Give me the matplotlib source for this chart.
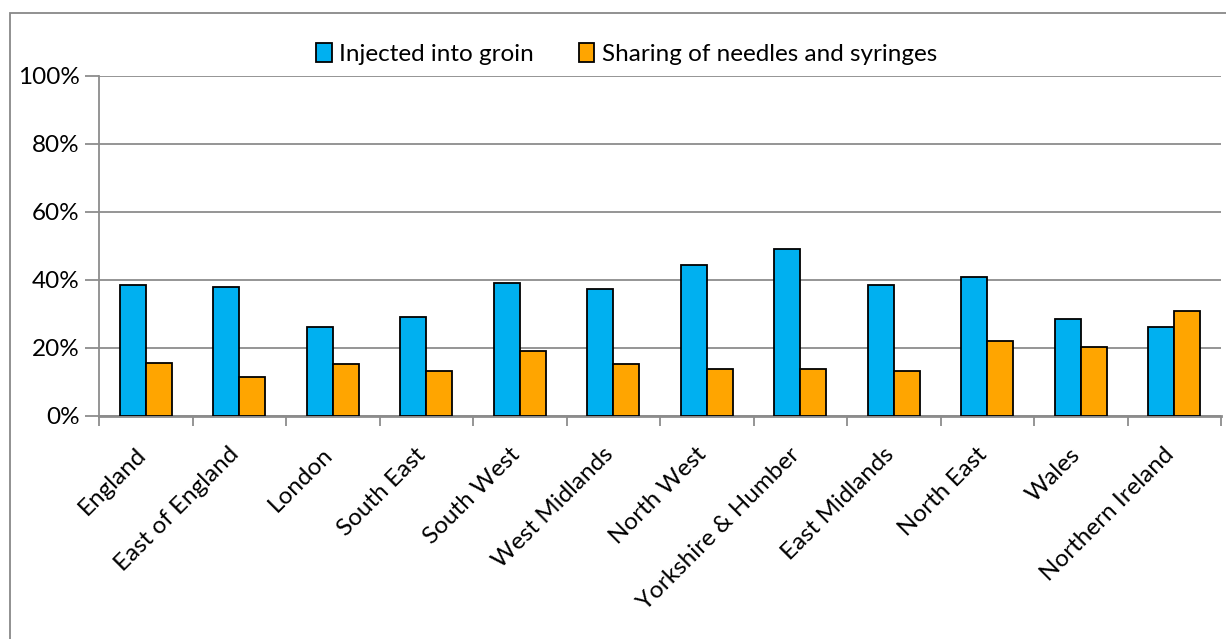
import matplotlib
matplotlib.use("Agg")
import matplotlib.pyplot as plt
import matplotlib.transforms as mtransforms
import numpy as np
from matplotlib.patches import Rectangle
from matplotlib.ticker import FixedLocator, PercentFormatter

plt.rcParams['font.family'] = ['Lato', 'DejaVu Sans']

regions = ["England", "East of England", "London", "South East", "South West",
           "West Midlands", "North West", "Yorkshire & Humber", "East Midlands",
           "North East", "Wales", "Northern Ireland"]
groin = [38.6, 38.0, 26.3, 29.2, 39.2, 37.5, 44.5, 49.2, 38.6, 41.0, 28.6, 26.3]
sharing = [15.7, 11.6, 15.2, 13.3, 19.2, 15.2, 13.9, 13.9, 13.3, 22.2, 20.4, 31.0]
series_names = ["Injected into groin", "Sharing of needles and syringes"]

blue = "#00B0F0"
orange = "#FFA500"
grey = "#8C8C8C"
fs = 17.5

fig = plt.figure(figsize=(12.26, 6.39), dpi=100)
ax = fig.add_axes([99 / 1226, 1 - 416 / 639, 1122 / 1226, 340 / 639])

# chart frame round the whole area
fig.patches.append(Rectangle((10 / 1226, -0.05), 1.1, 1 - 12.5 / 639 + 0.05,
                             transform=fig.transFigure, fill=False,
                             edgecolor="#888888", linewidth=1.3))

x = np.arange(len(regions))
w = 0.28
ax.bar(x - w / 2, groin, w, color=blue, edgecolor="black", linewidth=1.3,
       label=series_names[0], zorder=3)
ax.bar(x + w / 2, sharing, w, color=orange, edgecolor="black", linewidth=1.3,
       label=series_names[1], zorder=3)

ax.set_xlim(-0.5, len(regions) - 0.5)
ax.set_ylim(0, 100)
ax.set_yticks(np.arange(0, 101, 20))
ax.yaxis.set_major_formatter(PercentFormatter(decimals=0))
ax.grid(axis="y", color=grey, linewidth=1.3, zorder=0)

# category ticks sit between the groups, labels at the group centres
ax.xaxis.set_major_locator(FixedLocator(np.arange(-0.5, len(regions), 1)))
ax.xaxis.set_major_formatter(plt.NullFormatter())
ax.set_xticks(x, minor=True)
ax.set_xticklabels(regions, minor=True, rotation=45, ha="right", va="top",
                   rotation_mode="anchor", fontsize=fs)
ax.tick_params(axis="x", which="minor", length=0, pad=20)
ax.tick_params(axis="x", which="major", length=7, width=1.3, color=grey)
ax.tick_params(axis="y", length=10, width=1.3, color=grey, labelsize=fs, pad=4)

# nudge the slanted labels so each one ends over its group
shift = mtransforms.ScaledTranslation(-11 / 100, 0, fig.dpi_scale_trans)
for lbl in ax.get_xticklabels(minor=True):
    lbl.set_transform(lbl.get_transform() + shift)

for side in ["top", "right"]:
    ax.spines[side].set_visible(False)
ax.spines["left"].set_color(grey)
ax.spines["left"].set_linewidth(1.3)
ax.spines["bottom"].set_color(grey)
ax.spines["bottom"].set_linewidth(2)

ax.legend(loc="center", bbox_to_anchor=(0.47, 1.064), ncol=2, frameon=False,
          fontsize=fs, handlelength=0.65, handleheight=0.8, handletextpad=0.3,
          columnspacing=1.85)

fig.savefig("out.png", dpi=100)
